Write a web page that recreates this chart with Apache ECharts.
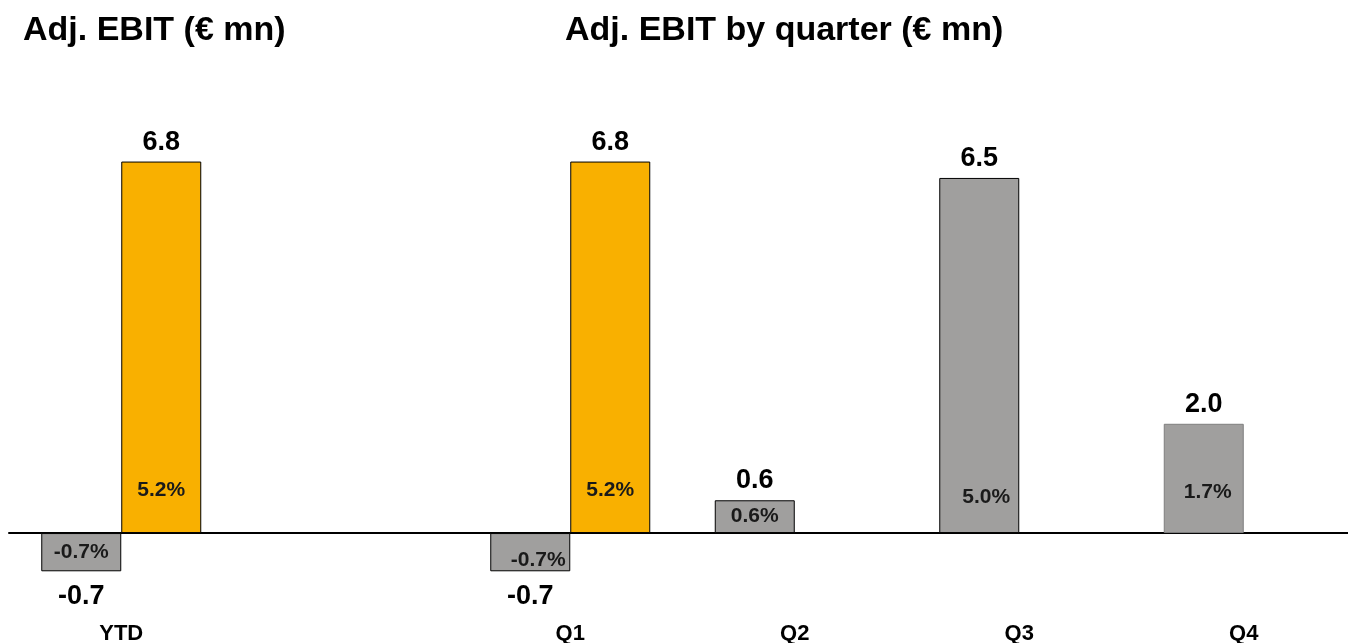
<!DOCTYPE html>
<html>
<head>
<meta charset="utf-8">
<title>Adj. EBIT</title>
<script src="https://cdn.jsdelivr.net/npm/echarts@6/dist/echarts.min.js"></script>
<style>
  html, body { margin: 0; padding: 0; background: #ffffff; }
  #chart { width: 1348px; height: 643px; }
</style>
</head>
<body>
<div id="chart"></div>
<script>
// Categories: year-to-date, a spacer column, then the four quarters
const categories = ['YTD', '', 'Q1', 'Q2', 'Q3', 'Q4'];

// Adj. EBIT in € mn
const priorEbit   = [-0.7, null, -0.7, 0.6, 6.5, 2.0];
const currentEbit = [6.8,  null, 6.8,  null, null, null];

// Adj. EBIT margin labels
const priorMargin   = ['-0.7%', null, '-0.7%', '0.6%', '5.0%', '1.7%'];
const currentMargin = ['5.2%',  null, '5.2%',  null,   null,   null];

const FONT = '"Liberation Sans", Arial, Helvetica, sans-serif';
const GREY = '#a09f9e';
const ORANGE = '#f9b000';
const BAR_W = 80;

// Quarter with a lighter outline
const softOutline = { Q4: '#7f7f7f' };

// Small nudges [dx, dy] for a few of the prior-year margin labels
const priorMarginNudge = { Q1: [8, 8], Q3: [7, 7], Q4: [4, 2] };

function barItems(values) {
  return values.map((v, i) => {
    if (v == null) return null;
    const item = {
      value: v,
      label: { position: v < 0 ? 'bottom' : 'top', distance: v < 0 ? 12 : 6 }
    };
    if (softOutline[categories[i]]) {
      item.itemStyle = { borderColor: softOutline[categories[i]] };
    }
    return item;
  });
}

function marginItems(values, margins, nudge) {
  return values.map((v, i) => {
    if (v == null) return null;
    const tall = v > 1.5;
    return {
      value: v,
      label: {
        formatter: margins[i],
        position: tall ? 'insideBottom' : 'inside',
        distance: tall ? 32 : 0,
        offset: (nudge && nudge[categories[i]]) || [0, 0]
      }
    };
  });
}

const valueLabel = {
  show: true,
  color: '#000',
  fontFamily: FONT,
  fontWeight: 'bold',
  fontSize: 27,
  formatter: p => p.value.toFixed(1)
};

const marginLabel = {
  show: true,
  color: '#1a1a1a',
  fontFamily: FONT,
  fontWeight: 'bold',
  fontSize: 21
};

const chart = echarts.init(document.getElementById('chart'), null, { renderer: 'canvas' });

chart.setOption({
  animation: false,
  backgroundColor: '#ffffff',
  title: [
    {
      text: 'Adj. EBIT (€ mn)',
      left: 23, top: 14, padding: 0,
      textStyle: { fontFamily: FONT, fontWeight: 'bold', fontSize: 34, color: '#000' }
    },
    {
      text: 'Adj. EBIT by quarter (€ mn)',
      left: 565, top: 14, padding: 0,
      textStyle: { fontFamily: FONT, fontWeight: 'bold', fontSize: 34, color: '#000' }
    }
  ],
  grid: { left: 9, width: 1347, top: 96, bottom: 28, outerBoundsMode: 'none', containLabel: false },
  xAxis: [
    {
      type: 'category',
      data: categories,
      axisLine: { onZero: true, lineStyle: { color: '#000', width: 2 } },
      axisTick: { show: false },
      axisLabel: {
        margin: 8,
        color: '#000',
        fontFamily: FONT,
        fontWeight: 'bold',
        fontSize: 22
      }
    },
    {
      type: 'category',
      data: categories,
      show: false
    }
  ],
  yAxis: {
    type: 'value',
    min: -1.5,
    max: 8,
    show: false,
    splitLine: { show: false }
  },
  series: [
    {
      name: 'Prior year',
      type: 'bar',
      xAxisIndex: 0,
      barWidth: BAR_W,
      barGap: '0%',
      itemStyle: { color: GREY, borderColor: '#000', borderWidth: 1 },
      label: valueLabel,
      data: barItems(priorEbit)
    },
    {
      name: 'Current year',
      type: 'bar',
      xAxisIndex: 0,
      barWidth: BAR_W,
      barGap: '0%',
      itemStyle: { color: ORANGE, borderColor: '#000', borderWidth: 1 },
      label: valueLabel,
      data: barItems(currentEbit)
    },
    {
      name: 'Prior year margin',
      type: 'bar',
      xAxisIndex: 1,
      barWidth: BAR_W,
      barGap: '0%',
      silent: true,
      z: 5,
      itemStyle: { color: 'rgba(0,0,0,0)', borderWidth: 0 },
      label: marginLabel,
      data: marginItems(priorEbit, priorMargin, priorMarginNudge)
    },
    {
      name: 'Current year margin',
      type: 'bar',
      xAxisIndex: 1,
      barWidth: BAR_W,
      barGap: '0%',
      silent: true,
      z: 5,
      itemStyle: { color: 'rgba(0,0,0,0)', borderWidth: 0 },
      label: marginLabel,
      data: marginItems(currentEbit, currentMargin, null)
    }
  ]
});
</script>
</body>
</html>
